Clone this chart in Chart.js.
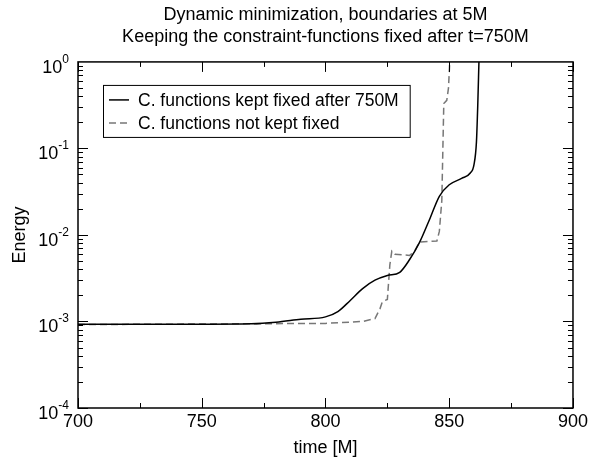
<!DOCTYPE html>
<html>
<head>
<meta charset="utf-8">
<script src="https://cdn.jsdelivr.net/npm/chart.js@4.4.1/dist/chart.umd.min.js"></script>
<style>
  html, body { margin: 0; padding: 0; background: #fff; }
  #wrap { width: 591px; height: 461px; }
</style>
</head>
<body>
<div id="wrap"><canvas id="myChart" width="591" height="461"></canvas></div>
<script>
// time [M] and energy
const timeFixed = [700, 750, 770, 780, 790, 800, 805, 810, 815, 820, 825, 830, 834, 838, 842, 846, 850, 855, 858.5, 860, 861, 861.5, 862];
const energyFixed = [0.00093, 0.00093, 0.00094, 0.00098, 0.00106, 0.00113, 0.0013, 0.00175, 0.0024, 0.003, 0.0034, 0.0037, 0.0052, 0.0082, 0.015, 0.028, 0.038, 0.045, 0.052, 0.065, 0.12, 0.3, 1.0];

const timeFree = [700, 800, 815, 820, 822, 823, 825, 826, 826.8, 828, 834, 836, 838, 845, 846, 847, 847.8, 849, 849.7, 850.2];
const energyFree = [0.00092, 0.00095, 0.001, 0.00108, 0.0014, 0.0017, 0.0018, 0.0045, 0.0065, 0.006, 0.0058, 0.0065, 0.0083, 0.0085, 0.011, 0.025, 0.33, 0.36, 0.5, 1.0];

const seriesNames = ['C. functions kept fixed after 750M', 'C. functions not kept fixed'];
const xTicks = [700, 750, 800, 850, 900];
const yTicks = [1e-4, 1e-3, 1e-2, 1e-1, 1];
const yExponents = ['-4', '-3', '-2', '-1', '0'];

const FONT = '"Liberation Sans", Arial, sans-serif';
const toPoints = (xs, ys) => xs.map((t, i) => ({ x: t, y: ys[i] }));

// ticks pointing inwards on all four sides + frame + y labels
const insideTicks = {
    id: 'insideTicks',
    afterDatasetsDraw(chart) {
        const { ctx, chartArea: a, scales: { x, y } } = chart;
        ctx.save();
        ctx.strokeStyle = '#000';
        ctx.lineWidth = 1;
        ctx.beginPath();
        for (let t = xTicks[0]; t <= xTicks[xTicks.length - 1]; t += 25) {
            const px = Math.round(x.getPixelForValue(t)) + 0.5;
            const len = t % 50 ? 5 : 10;
            ctx.moveTo(px, a.bottom); ctx.lineTo(px, a.bottom - len);
            ctx.moveTo(px, a.top); ctx.lineTo(px, a.top + len);
        }
        for (let d = -4; d < 0; d++) {
            for (let k = 1; k <= 9; k++) {
                const py = Math.round(y.getPixelForValue(k * Math.pow(10, d))) + 0.5;
                const len = k === 1 ? 10 : 5;
                ctx.moveTo(a.left, py); ctx.lineTo(a.left + len, py);
                ctx.moveTo(a.right, py); ctx.lineTo(a.right - len, py);
            }
        }
        ctx.stroke();
        ctx.lineWidth = 1.5;
        ctx.strokeRect(a.left, a.top, a.right - a.left, a.bottom - a.top);

        // 10 with a raised exponent
        ctx.fillStyle = '#000';
        ctx.textAlign = 'right';
        ctx.textBaseline = 'alphabetic';
        yTicks.forEach((v, i) => {
            const py = y.getPixelForValue(v);
            ctx.font = '12px ' + FONT;
            const ew = ctx.measureText(yExponents[i]).width;
            const xr = a.left - 9;
            ctx.fillText(yExponents[i], xr, py + 1);
            ctx.font = '18px ' + FONT;
            ctx.fillText('10', xr - ew, py + 11);
        });
        ctx.restore();
    }
};

// legend box inside the plot
const boxLegend = {
    id: 'boxLegend',
    afterDraw(chart) {
        const { ctx, chartArea: a } = chart;
        const ds = chart.data.datasets;
        const x0 = a.left + 25, y0 = a.top + 23;
        ctx.save();
        ctx.font = '17.5px ' + FONT;
        const w = Math.max(...ds.map(d => ctx.measureText(d.label).width)) + 46;
        ctx.lineWidth = 1;
        ctx.strokeStyle = '#000';
        ctx.strokeRect(x0 + 0.5, y0 + 0.5, w, 52);
        ds.forEach((d, i) => {
            const yy = y0 + 15 + i * 23;
            ctx.strokeStyle = d.borderColor;
            ctx.lineWidth = d.borderWidth;
            ctx.setLineDash(d.borderDash || []);
            ctx.beginPath();
            ctx.moveTo(x0 + 6, yy); ctx.lineTo(x0 + 26, yy);
            ctx.stroke();
            ctx.setLineDash([]);
            ctx.fillStyle = '#000';
            ctx.textBaseline = 'middle';
            ctx.fillText(d.label, x0 + 35, yy + 1);
        });
        ctx.restore();
    }
};

const ctx = document.getElementById('myChart').getContext('2d');
Chart.defaults.font.family = FONT;
Chart.defaults.color = '#000';

new Chart(ctx, {
    type: 'line',
    data: {
        datasets: [{
            label: seriesNames[0],
            data: toPoints(timeFixed, energyFixed),
            borderColor: '#000',
            borderWidth: 1.5,
            pointRadius: 0,
            cubicInterpolationMode: 'monotone'
        }, {
            label: seriesNames[1],
            data: toPoints(timeFree, energyFree),
            borderColor: '#777',
            borderWidth: 1.5,
            borderDash: [7, 4],
            pointRadius: 0,
            tension: 0
        }]
    },
    plugins: [insideTicks, boxLegend],
    options: {
        responsive: false,
        animation: false,
        layout: { padding: { left: 5, right: 15, top: 0, bottom: 0 } },
        plugins: {
            legend: { display: false },
            tooltip: { enabled: false },
            title: {
                display: true,
                fullSize: false,
                text: ['Dynamic minimization, boundaries at 5M', 'Keeping the constraint-functions fixed after t=750M'],
                font: { size: 18, weight: 'normal', lineHeight: 1.22 },
                padding: { top: 4, bottom: 14 }
            }
        },
        scales: {
            x: {
                type: 'linear',
                min: 700,
                max: 900,
                grid: { display: false, drawTicks: false, tickLength: 0 },
                border: { display: false },
                afterBuildTicks: s => { s.ticks = xTicks.map(v => ({ value: v })); },
                ticks: { font: { size: 18 }, padding: 3, maxRotation: 0 },
                title: { display: true, text: 'time [M]', font: { size: 18 }, padding: { top: 0, bottom: 2 } },
                afterFit: s => { s.height = 53; }
            },
            y: {
                type: 'logarithmic',
                min: 1e-4,
                max: 1,
                grid: { display: false, drawTicks: false, tickLength: 0 },
                border: { display: false },
                afterBuildTicks: s => { s.ticks = yTicks.map(v => ({ value: v })); },
                ticks: { display: false },
                title: { display: true, text: 'Energy', font: { size: 18 }, padding: 4 },
                afterFit: s => { s.width = 73; }
            }
        }
    }
});
</script>
</body>
</html>
